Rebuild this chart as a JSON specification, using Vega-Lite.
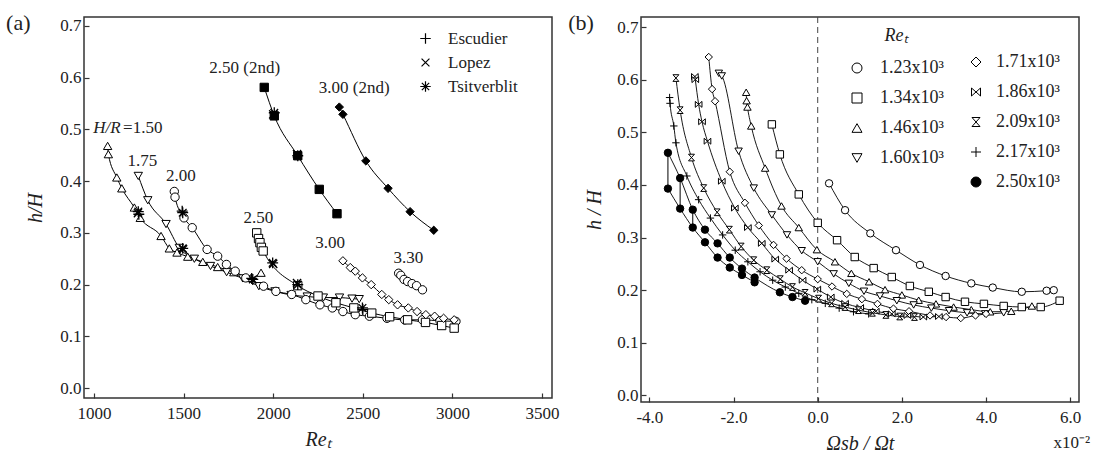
{
  "$schema": "https://vega.github.io/schema/vega-lite/v6.json",
  "background": "white",
  "padding": {"left": 5, "top": 11, "right": 5, "bottom": 5},
  "spacing": 7,
  "config": {
    "font": "Liberation Serif",
    "view": {"stroke": "#333", "strokeWidth": 1.5},
    "axis": {"grid": false, "domain": false, "ticks": true, "tickSize": -5, "tickColor": "#333", "tickWidth": 1.2, "labelFont": "Liberation Serif", "labelFontSize": 17, "labelColor": "#222", "titleFont": "Liberation Serif", "titleFontSize": 20, "titleFontStyle": "italic", "titleFontWeight": "normal", "titleColor": "#222"},
    "axisX": {"labelPadding": 12, "titlePadding": 8},
    "axisY": {"labelPadding": 8},
    "legend": {"labelFont": "Liberation Serif", "labelFontSize": 17, "labelColor": "#222", "titleFont": "Liberation Serif", "titleFontSize": 18, "titleFontStyle": "italic", "titleFontWeight": "normal", "titleColor": "#222", "padding": 0, "symbolStrokeColor": "black", "symbolStrokeWidth": 1}
  },
  "datasets": {
    "one": [{}],
    "a": [
      {"s": "1.50", "x": 1076, "y": 0.468}, {"s": "1.50", "x": 1080, "y": 0.452}, {"s": "1.50", "x": 1127, "y": 0.407}, {"s": "1.50", "x": 1155, "y": 0.386}, {"s": "1.50", "x": 1225, "y": 0.349}, {"s": "1.50", "x": 1258, "y": 0.329}, {"s": "1.50", "x": 1374, "y": 0.294}, {"s": "1.50", "x": 1420, "y": 0.27}, {"s": "1.50", "x": 1463, "y": 0.262}, {"s": "1.50", "x": 1523, "y": 0.254}, {"s": "1.50", "x": 1607, "y": 0.244}, {"s": "1.50", "x": 1690, "y": 0.234}, {"s": "1.50", "x": 1780, "y": 0.224}, {"s": "1.50", "x": 1876, "y": 0.213}, {"s": "1.50", "x": 1932, "y": 0.223},
      {"s": "1.75", "x": 1247, "y": 0.41}, {"s": "1.75", "x": 1300, "y": 0.363}, {"s": "1.75", "x": 1402, "y": 0.317}, {"s": "1.75", "x": 1476, "y": 0.271}, {"s": "1.75", "x": 1560, "y": 0.25}, {"s": "1.75", "x": 1650, "y": 0.236}, {"s": "1.75", "x": 1740, "y": 0.224}, {"s": "1.75", "x": 1830, "y": 0.212}, {"s": "1.75", "x": 1920, "y": 0.197}, {"s": "1.75", "x": 2010, "y": 0.187}, {"s": "1.75", "x": 2100, "y": 0.18}, {"s": "1.75", "x": 2190, "y": 0.177}, {"s": "1.75", "x": 2280, "y": 0.175}, {"s": "1.75", "x": 2370, "y": 0.175}, {"s": "1.75", "x": 2440, "y": 0.173}, {"s": "1.75", "x": 2480, "y": 0.172},
      {"s": "2.00", "x": 1448, "y": 0.38}, {"s": "2.00", "x": 1452, "y": 0.369}, {"s": "2.00", "x": 1502, "y": 0.329}, {"s": "2.00", "x": 1548, "y": 0.31}, {"s": "2.00", "x": 1631, "y": 0.268}, {"s": "2.00", "x": 1690, "y": 0.255}, {"s": "2.00", "x": 1739, "y": 0.239}, {"s": "2.00", "x": 1788, "y": 0.226}, {"s": "2.00", "x": 1847, "y": 0.213}, {"s": "2.00", "x": 1946, "y": 0.197}, {"s": "2.00", "x": 2015, "y": 0.187}, {"s": "2.00", "x": 2103, "y": 0.181}, {"s": "2.00", "x": 2182, "y": 0.171}, {"s": "2.00", "x": 2261, "y": 0.161}, {"s": "2.00", "x": 2330, "y": 0.155}, {"s": "2.00", "x": 2389, "y": 0.148}, {"s": "2.00", "x": 2458, "y": 0.142}, {"s": "2.00", "x": 2537, "y": 0.139}, {"s": "2.00", "x": 2635, "y": 0.135}, {"s": "2.00", "x": 2734, "y": 0.132}, {"s": "2.00", "x": 2833, "y": 0.132}, {"s": "2.00", "x": 2931, "y": 0.13}, {"s": "2.00", "x": 3020, "y": 0.129},
      {"s": "2.50", "x": 1908, "y": 0.3}, {"s": "2.50", "x": 1918, "y": 0.289}, {"s": "2.50", "x": 1926, "y": 0.281}, {"s": "2.50", "x": 1934, "y": 0.272}, {"s": "2.50", "x": 1944, "y": 0.265}, {"s": "2.50", "x": 2137, "y": 0.198}, {"s": "2.50", "x": 2250, "y": 0.178}, {"s": "2.50", "x": 2350, "y": 0.165}, {"s": "2.50", "x": 2450, "y": 0.155}, {"s": "2.50", "x": 2550, "y": 0.145}, {"s": "2.50", "x": 2650, "y": 0.138}, {"s": "2.50", "x": 2750, "y": 0.132}, {"s": "2.50", "x": 2850, "y": 0.127}, {"s": "2.50", "x": 2940, "y": 0.121}, {"s": "2.50", "x": 3010, "y": 0.116},
      {"s": "3.00", "x": 2389, "y": 0.246}, {"s": "3.00", "x": 2430, "y": 0.233}, {"s": "3.00", "x": 2458, "y": 0.226}, {"s": "3.00", "x": 2498, "y": 0.213}, {"s": "3.00", "x": 2547, "y": 0.2}, {"s": "3.00", "x": 2606, "y": 0.181}, {"s": "3.00", "x": 2645, "y": 0.171}, {"s": "3.00", "x": 2694, "y": 0.161}, {"s": "3.00", "x": 2754, "y": 0.155}, {"s": "3.00", "x": 2803, "y": 0.148}, {"s": "3.00", "x": 2852, "y": 0.142}, {"s": "3.00", "x": 2901, "y": 0.139}, {"s": "3.00", "x": 2951, "y": 0.135}, {"s": "3.00", "x": 3010, "y": 0.132},
      {"s": "3.30", "x": 2700, "y": 0.222}, {"s": "3.30", "x": 2712, "y": 0.218}, {"s": "3.30", "x": 2730, "y": 0.21}, {"s": "3.30", "x": 2750, "y": 0.206}, {"s": "3.30", "x": 2775, "y": 0.202}, {"s": "3.30", "x": 2800, "y": 0.198}, {"s": "3.30", "x": 2833, "y": 0.19},
      {"s": "2.50 (2nd)", "x": 1950, "y": 0.581}, {"s": "2.50 (2nd)", "x": 2006, "y": 0.526}, {"s": "2.50 (2nd)", "x": 2137, "y": 0.449}, {"s": "2.50 (2nd)", "x": 2257, "y": 0.384}, {"s": "2.50 (2nd)", "x": 2356, "y": 0.337},
      {"s": "3.00 (2nd)", "x": 2369, "y": 0.543}, {"s": "3.00 (2nd)", "x": 2389, "y": 0.529}, {"s": "3.00 (2nd)", "x": 2517, "y": 0.439}, {"s": "3.00 (2nd)", "x": 2641, "y": 0.386}, {"s": "3.00 (2nd)", "x": 2764, "y": 0.341}, {"s": "3.00 (2nd)", "x": 2896, "y": 0.305}
    ],
    "src": [
      {"src": "Tsitverblit", "x": 1247, "y": 0.341}, {"src": "Tsitverblit", "x": 1495, "y": 0.339}, {"src": "Tsitverblit", "x": 1495, "y": 0.27}, {"src": "Tsitverblit", "x": 1886, "y": 0.21}, {"src": "Tsitverblit", "x": 1997, "y": 0.242}, {"src": "Tsitverblit", "x": 2137, "y": 0.2}, {"src": "Tsitverblit", "x": 2498, "y": 0.155}, {"src": "Tsitverblit", "x": 2006, "y": 0.532}, {"src": "Tsitverblit", "x": 2137, "y": 0.449},
      {"src": "Escudier", "x": 1250, "y": 0.336}, {"src": "Escudier", "x": 1492, "y": 0.342}, {"src": "Escudier", "x": 1880, "y": 0.212}, {"src": "Escudier", "x": 2500, "y": 0.152},
      {"src": "Lopez", "x": 1245, "y": 0.338}, {"src": "Lopez", "x": 1497, "y": 0.268}, {"src": "Lopez", "x": 2000, "y": 0.24}, {"src": "Lopez", "x": 2133, "y": 0.203}, {"src": "Lopez", "x": 2000, "y": 0.529}, {"src": "Lopez", "x": 2133, "y": 0.452}
    ],
    "alab": [
      {"t": "1.75", "x": 1270, "y": 0.438},
      {"t": "2.00", "x": 1485, "y": 0.41},
      {"t": "2.50", "x": 1917, "y": 0.329},
      {"t": "3.00", "x": 2318, "y": 0.281},
      {"t": "3.30", "x": 2754, "y": 0.252},
      {"t": "2.50 (2nd)", "x": 1841, "y": 0.619},
      {"t": "3.00 (2nd)", "x": 2452, "y": 0.579}
    ],
    "b": [
      {"re": "1.23x10³", "c": "1.23", "x": 0.27, "y": 0.403}, {"re": "1.23x10³", "c": "1.23", "x": 0.65, "y": 0.352}, {"re": "1.23x10³", "c": "1.23", "x": 1.25, "y": 0.308}, {"re": "1.23x10³", "c": "1.23", "x": 1.86, "y": 0.276}, {"re": "1.23x10³", "c": "1.23", "x": 2.43, "y": 0.248}, {"re": "1.23x10³", "c": "1.23", "x": 3.04, "y": 0.227}, {"re": "1.23x10³", "c": "1.23", "x": 3.65, "y": 0.213}, {"re": "1.23x10³", "c": "1.23", "x": 4.16, "y": 0.205}, {"re": "1.23x10³", "c": "1.23", "x": 4.85, "y": 0.197}, {"re": "1.23x10³", "c": "1.23", "x": 5.44, "y": 0.199}, {"re": "1.23x10³", "c": "1.23", "x": 5.61, "y": 0.2},
      {"re": "1.34x10³", "c": "1.34", "x": -1.09, "y": 0.515}, {"re": "1.34x10³", "c": "1.34", "x": -0.9, "y": 0.458}, {"re": "1.34x10³", "c": "1.34", "x": -0.45, "y": 0.382}, {"re": "1.34x10³", "c": "1.34", "x": 0.0, "y": 0.328}, {"re": "1.34x10³", "c": "1.34", "x": 0.46, "y": 0.295}, {"re": "1.34x10³", "c": "1.34", "x": 0.88, "y": 0.263}, {"re": "1.34x10³", "c": "1.34", "x": 1.33, "y": 0.242}, {"re": "1.34x10³", "c": "1.34", "x": 1.76, "y": 0.225}, {"re": "1.34x10³", "c": "1.34", "x": 2.19, "y": 0.208}, {"re": "1.34x10³", "c": "1.34", "x": 2.64, "y": 0.197}, {"re": "1.34x10³", "c": "1.34", "x": 3.04, "y": 0.187}, {"re": "1.34x10³", "c": "1.34", "x": 3.5, "y": 0.178}, {"re": "1.34x10³", "c": "1.34", "x": 3.95, "y": 0.174}, {"re": "1.34x10³", "c": "1.34", "x": 4.42, "y": 0.17}, {"re": "1.34x10³", "c": "1.34", "x": 4.85, "y": 0.168}, {"re": "1.34x10³", "c": "1.34", "x": 5.3, "y": 0.168}, {"re": "1.34x10³", "c": "1.34", "x": 5.75, "y": 0.18},
      {"re": "1.46x10³", "c": "1.46", "x": -1.7, "y": 0.576}, {"re": "1.46x10³", "c": "1.46", "x": -1.69, "y": 0.56}, {"re": "1.46x10³", "c": "1.46", "x": -1.67, "y": 0.548}, {"re": "1.46x10³", "c": "1.46", "x": -1.58, "y": 0.512}, {"re": "1.46x10³", "c": "1.46", "x": -1.25, "y": 0.432}, {"re": "1.46x10³", "c": "1.46", "x": -0.86, "y": 0.36}, {"re": "1.46x10³", "c": "1.46", "x": -0.45, "y": 0.319}, {"re": "1.46x10³", "c": "1.46", "x": -0.02, "y": 0.277}, {"re": "1.46x10³", "c": "1.46", "x": 0.41, "y": 0.254}, {"re": "1.46x10³", "c": "1.46", "x": 0.8, "y": 0.232}, {"re": "1.46x10³", "c": "1.46", "x": 1.22, "y": 0.216}, {"re": "1.46x10³", "c": "1.46", "x": 1.6, "y": 0.201}, {"re": "1.46x10³", "c": "1.46", "x": 2.0, "y": 0.191}, {"re": "1.46x10³", "c": "1.46", "x": 2.4, "y": 0.181}, {"re": "1.46x10³", "c": "1.46", "x": 2.81, "y": 0.174}, {"re": "1.46x10³", "c": "1.46", "x": 3.23, "y": 0.168}, {"re": "1.46x10³", "c": "1.46", "x": 3.65, "y": 0.163}, {"re": "1.46x10³", "c": "1.46", "x": 4.1, "y": 0.159}, {"re": "1.46x10³", "c": "1.46", "x": 4.6, "y": 0.16}, {"re": "1.46x10³", "c": "1.46", "x": 5.09, "y": 0.17},
      {"re": "1.60x10³", "c": "1.60", "x": -2.35, "y": 0.612}, {"re": "1.60x10³", "c": "1.60", "x": -2.28, "y": 0.607}, {"re": "1.60x10³", "c": "1.60", "x": -1.88, "y": 0.464}, {"re": "1.60x10³", "c": "1.60", "x": -1.52, "y": 0.394}, {"re": "1.60x10³", "c": "1.60", "x": -1.09, "y": 0.343}, {"re": "1.60x10³", "c": "1.60", "x": -0.73, "y": 0.305}, {"re": "1.60x10³", "c": "1.60", "x": -0.38, "y": 0.275}, {"re": "1.60x10³", "c": "1.60", "x": 0.0, "y": 0.254}, {"re": "1.60x10³", "c": "1.60", "x": 0.38, "y": 0.231}, {"re": "1.60x10³", "c": "1.60", "x": 0.74, "y": 0.213}, {"re": "1.60x10³", "c": "1.60", "x": 1.1, "y": 0.198}, {"re": "1.60x10³", "c": "1.60", "x": 1.48, "y": 0.189}, {"re": "1.60x10³", "c": "1.60", "x": 1.88, "y": 0.18}, {"re": "1.60x10³", "c": "1.60", "x": 2.28, "y": 0.172}, {"re": "1.60x10³", "c": "1.60", "x": 2.7, "y": 0.166}, {"re": "1.60x10³", "c": "1.60", "x": 3.12, "y": 0.161}, {"re": "1.60x10³", "c": "1.60", "x": 3.55, "y": 0.157}, {"re": "1.60x10³", "c": "1.60", "x": 3.98, "y": 0.155}, {"re": "1.60x10³", "c": "1.60", "x": 4.42, "y": 0.157},
      {"re": "1.71x10³", "c": "1.71", "x": -2.59, "y": 0.643}, {"re": "1.71x10³", "c": "1.71", "x": -2.51, "y": 0.582}, {"re": "1.71x10³", "c": "1.71", "x": -2.44, "y": 0.559}, {"re": "1.71x10³", "c": "1.71", "x": -2.09, "y": 0.425}, {"re": "1.71x10³", "c": "1.71", "x": -1.73, "y": 0.366}, {"re": "1.71x10³", "c": "1.71", "x": -1.4, "y": 0.323}, {"re": "1.71x10³", "c": "1.71", "x": -1.05, "y": 0.286}, {"re": "1.71x10³", "c": "1.71", "x": -0.74, "y": 0.26}, {"re": "1.71x10³", "c": "1.71", "x": -0.38, "y": 0.238}, {"re": "1.71x10³", "c": "1.71", "x": 0.0, "y": 0.221}, {"re": "1.71x10³", "c": "1.71", "x": 0.34, "y": 0.207}, {"re": "1.71x10³", "c": "1.71", "x": 0.69, "y": 0.193}, {"re": "1.71x10³", "c": "1.71", "x": 1.05, "y": 0.183}, {"re": "1.71x10³", "c": "1.71", "x": 1.42, "y": 0.174}, {"re": "1.71x10³", "c": "1.71", "x": 1.8, "y": 0.165}, {"re": "1.71x10³", "c": "1.71", "x": 2.17, "y": 0.16}, {"re": "1.71x10³", "c": "1.71", "x": 2.67, "y": 0.152}, {"re": "1.71x10³", "c": "1.71", "x": 3.05, "y": 0.149}, {"re": "1.71x10³", "c": "1.71", "x": 3.4, "y": 0.147}, {"re": "1.71x10³", "c": "1.71", "x": 3.75, "y": 0.152}, {"re": "1.71x10³", "c": "1.71", "x": 4.0, "y": 0.155},
      {"re": "1.86x10³", "c": "1.86", "x": -2.92, "y": 0.606}, {"re": "1.86x10³", "c": "1.86", "x": -2.91, "y": 0.6}, {"re": "1.86x10³", "c": "1.86", "x": -2.83, "y": 0.553}, {"re": "1.86x10³", "c": "1.86", "x": -2.75, "y": 0.52}, {"re": "1.86x10³", "c": "1.86", "x": -2.62, "y": 0.483}, {"re": "1.86x10³", "c": "1.86", "x": -2.28, "y": 0.407}, {"re": "1.86x10³", "c": "1.86", "x": -1.97, "y": 0.356}, {"re": "1.86x10³", "c": "1.86", "x": -1.66, "y": 0.319}, {"re": "1.86x10³", "c": "1.86", "x": -1.33, "y": 0.289}, {"re": "1.86x10³", "c": "1.86", "x": -1.01, "y": 0.259}, {"re": "1.86x10³", "c": "1.86", "x": -0.68, "y": 0.238}, {"re": "1.86x10³", "c": "1.86", "x": -0.36, "y": 0.219}, {"re": "1.86x10³", "c": "1.86", "x": -0.01, "y": 0.202}, {"re": "1.86x10³", "c": "1.86", "x": 0.31, "y": 0.187}, {"re": "1.86x10³", "c": "1.86", "x": 0.65, "y": 0.175}, {"re": "1.86x10³", "c": "1.86", "x": 1.01, "y": 0.167}, {"re": "1.86x10³", "c": "1.86", "x": 1.38, "y": 0.16}, {"re": "1.86x10³", "c": "1.86", "x": 1.76, "y": 0.155}, {"re": "1.86x10³", "c": "1.86", "x": 2.13, "y": 0.152}, {"re": "1.86x10³", "c": "1.86", "x": 2.51, "y": 0.149}, {"re": "1.86x10³", "c": "1.86", "x": 2.88, "y": 0.15},
      {"re": "2.09x10³", "c": "2.09", "x": -3.37, "y": 0.603}, {"re": "2.09x10³", "c": "2.09", "x": -3.27, "y": 0.542}, {"re": "2.09x10³", "c": "2.09", "x": -3.0, "y": 0.452}, {"re": "2.09x10³", "c": "2.09", "x": -2.71, "y": 0.394}, {"re": "2.09x10³", "c": "2.09", "x": -2.39, "y": 0.348}, {"re": "2.09x10³", "c": "2.09", "x": -2.1, "y": 0.315}, {"re": "2.09x10³", "c": "2.09", "x": -1.82, "y": 0.283}, {"re": "2.09x10³", "c": "2.09", "x": -1.52, "y": 0.257}, {"re": "2.09x10³", "c": "2.09", "x": -1.21, "y": 0.238}, {"re": "2.09x10³", "c": "2.09", "x": -0.89, "y": 0.221}, {"re": "2.09x10³", "c": "2.09", "x": -0.6, "y": 0.206}, {"re": "2.09x10³", "c": "2.09", "x": -0.3, "y": 0.195}, {"re": "2.09x10³", "c": "2.09", "x": 0.02, "y": 0.184}, {"re": "2.09x10³", "c": "2.09", "x": 0.33, "y": 0.175}, {"re": "2.09x10³", "c": "2.09", "x": 0.65, "y": 0.168}, {"re": "2.09x10³", "c": "2.09", "x": 0.97, "y": 0.162}, {"re": "2.09x10³", "c": "2.09", "x": 1.3, "y": 0.157}, {"re": "2.09x10³", "c": "2.09", "x": 1.62, "y": 0.153}, {"re": "2.09x10³", "c": "2.09", "x": 1.95, "y": 0.15}, {"re": "2.09x10³", "c": "2.09", "x": 2.3, "y": 0.149},
      {"re": "2.17x10³", "c": "2.17", "x": -3.52, "y": 0.566}, {"re": "2.17x10³", "c": "2.17", "x": -3.51, "y": 0.555}, {"re": "2.17x10³", "c": "2.17", "x": -3.42, "y": 0.512}, {"re": "2.17x10³", "c": "2.17", "x": -3.37, "y": 0.48}, {"re": "2.17x10³", "c": "2.17", "x": -3.11, "y": 0.417}, {"re": "2.17x10³", "c": "2.17", "x": -2.83, "y": 0.372}, {"re": "2.17x10³", "c": "2.17", "x": -2.55, "y": 0.337}, {"re": "2.17x10³", "c": "2.17", "x": -2.26, "y": 0.305}, {"re": "2.17x10³", "c": "2.17", "x": -1.96, "y": 0.276}, {"re": "2.17x10³", "c": "2.17", "x": -1.66, "y": 0.254}, {"re": "2.17x10³", "c": "2.17", "x": -1.37, "y": 0.235}, {"re": "2.17x10³", "c": "2.17", "x": -1.07, "y": 0.219}, {"re": "2.17x10³", "c": "2.17", "x": -0.77, "y": 0.206}, {"re": "2.17x10³", "c": "2.17", "x": -0.45, "y": 0.194}, {"re": "2.17x10³", "c": "2.17", "x": -0.14, "y": 0.182}, {"re": "2.17x10³", "c": "2.17", "x": 0.18, "y": 0.175}, {"re": "2.17x10³", "c": "2.17", "x": 0.51, "y": 0.166}, {"re": "2.17x10³", "c": "2.17", "x": 0.85, "y": 0.159}, {"re": "2.17x10³", "c": "2.17", "x": 1.21, "y": 0.155},
      {"re": "2.50x10³", "c": "2.50u", "x": -3.56, "y": 0.461}, {"re": "2.50x10³", "c": "2.50u", "x": -3.27, "y": 0.413}, {"re": "2.50x10³", "c": "2.50u", "x": -2.97, "y": 0.353}, {"re": "2.50x10³", "c": "2.50u", "x": -2.68, "y": 0.315}, {"re": "2.50x10³", "c": "2.50u", "x": -2.38, "y": 0.289}, {"re": "2.50x10³", "c": "2.50u", "x": -2.09, "y": 0.262}, {"re": "2.50x10³", "c": "2.50u", "x": -1.8, "y": 0.241}, {"re": "2.50x10³", "c": "2.50u", "x": -1.5, "y": 0.224}, {"re": "2.50x10³", "c": "2.50u", "x": -0.9, "y": 0.196}, {"re": "2.50x10³", "c": "2.50u", "x": -0.6, "y": 0.187}, {"re": "2.50x10³", "c": "2.50u", "x": -0.3, "y": 0.18},
      {"re": "2.50x10³", "c": "2.50l", "x": -3.56, "y": 0.393}, {"re": "2.50x10³", "c": "2.50l", "x": -3.27, "y": 0.355}, {"re": "2.50x10³", "c": "2.50l", "x": -2.97, "y": 0.319}, {"re": "2.50x10³", "c": "2.50l", "x": -2.68, "y": 0.291}, {"re": "2.50x10³", "c": "2.50l", "x": -2.38, "y": 0.262}, {"re": "2.50x10³", "c": "2.50l", "x": -2.09, "y": 0.243}, {"re": "2.50x10³", "c": "2.50l", "x": -1.8, "y": 0.229}, {"re": "2.50x10³", "c": "2.50l", "x": -1.5, "y": 0.215}
    ],
    "pairs": [
      {"x": -3.56, "y": 0.461, "y2": 0.393},
      {"x": -3.27, "y": 0.413, "y2": 0.355},
      {"x": -2.97, "y": 0.353, "y2": 0.319}
    ]
  },
  "hconcat": [
    {
      "width": 468,
      "height": 381,
      "layer": [
        {
          "data": {"name": "a"},
          "mark": {"type": "line", "interpolate": "monotone", "stroke": "black", "strokeWidth": 1},
          "encoding": {
            "x": {"field": "x", "type": "quantitative", "scale": {"domain": [944, 3556], "nice": false, "zero": false}, "axis": {"title": "Reₜ", "values": [1000, 1500, 2000, 2500, 3000, 3500], "format": "d"}},
            "y": {"field": "y", "type": "quantitative", "scale": {"domain": [-0.019, 0.717], "nice": false, "zero": false}, "axis": {"title": "h/H", "values": [0, 0.1, 0.2, 0.3, 0.4, 0.5, 0.6, 0.7], "format": ".1f", "titlePadding": 14}},
            "detail": {"field": "s"}
          }
        },
        {
          "data": {"name": "a"},
          "mark": {"type": "point", "filled": true, "stroke": "black", "strokeWidth": 1, "size": 70, "opacity": 1},
          "encoding": {
            "x": {"field": "x", "type": "quantitative"},
            "y": {"field": "y", "type": "quantitative"},
            "shape": {"field": "s", "type": "nominal", "scale": {"domain": ["1.50", "1.75", "2.00", "2.50", "3.00", "3.30", "2.50 (2nd)", "3.00 (2nd)"], "range": ["triangle-up", "triangle-down", "circle", "square", "diamond", "circle", "square", "diamond"]}, "legend": null},
            "fill": {"field": "s", "type": "nominal", "scale": {"domain": ["1.50", "1.75", "2.00", "2.50", "3.00", "3.30", "2.50 (2nd)", "3.00 (2nd)"], "range": ["white", "white", "white", "white", "white", "white", "black", "black"]}, "legend": null}
          }
        },
        {
          "data": {"name": "src"},
          "mark": {"type": "point", "filled": false, "stroke": "black", "strokeWidth": 1.3, "size": 120, "opacity": 1},
          "encoding": {
            "x": {"field": "x", "type": "quantitative"},
            "y": {"field": "y", "type": "quantitative"},
            "shape": {"field": "src", "type": "nominal", "scale": {"domain": ["Escudier", "Lopez", "Tsitverblit"], "range": ["M-1,0L1,0M0,-1L0,1", "M-0.75,-0.75L0.75,0.75M-0.75,0.75L0.75,-0.75", "M-1,0L1,0M0,-1L0,1M-0.7,-0.7L0.7,0.7M-0.7,0.7L0.7,-0.7"]}, "legend": {"orient": "none", "legendX": 333, "legendY": 13, "title": null, "labelFontSize": 17, "rowPadding": 6, "symbolSize": 110, "labelOffset": 14, "symbolStrokeWidth": 1.2}}
          }
        },
        {
          "data": {"name": "alab"},
          "mark": {"type": "text", "font": "Liberation Serif", "fontSize": 17, "color": "#222", "align": "center"},
          "encoding": {
            "x": {"field": "x", "type": "quantitative"},
            "y": {"field": "y", "type": "quantitative"},
            "text": {"field": "t"}
          }
        },
        {
          "data": {"name": "one"},
          "mark": {"type": "text", "text": "H/R", "font": "Liberation Serif", "fontSize": 17, "fontStyle": "italic", "color": "#222", "align": "right"},
          "encoding": {"x": {"datum": 1148}, "y": {"datum": 0.503}}
        },
        {
          "data": {"name": "one"},
          "mark": {"type": "text", "text": "=1.50", "font": "Liberation Serif", "fontSize": 17, "color": "#222", "align": "left"},
          "encoding": {"x": {"datum": 1162}, "y": {"datum": 0.503}}
        },
        {
          "data": {"name": "one"},
          "mark": {"type": "text", "text": "(a)", "font": "Liberation Serif", "fontSize": 22, "color": "#222", "align": "left", "baseline": "middle"},
          "encoding": {"x": {"datum": 509}, "y": {"datum": 0.7054}}
        }
      ],
      "resolve": {"scale": {"shape": "independent", "fill": "independent"}}
    },
    {
      "width": 438,
      "height": 385,
      "layer": [
        {
          "data": {"name": "one"},
          "mark": {"type": "rule", "strokeDash": [6, 4], "color": "#444", "strokeWidth": 1},
          "encoding": {
            "x": {"datum": 0, "type": "quantitative", "scale": {"domain": [-4.2, 6.21], "nice": false, "zero": false}, "axis": {"title": "Ωsb / Ωt", "values": [-4, -2, 0, 2, 4, 6], "format": ".1f", "labelExpr": "replace(datum.label, '−', '-')"}}
          }
        },
        {
          "data": {"name": "b"},
          "mark": {"type": "line", "interpolate": "monotone", "stroke": "black", "strokeWidth": 0.9},
          "encoding": {
            "x": {"field": "x", "type": "quantitative"},
            "y": {"field": "y", "type": "quantitative", "scale": {"domain": [-0.0124, 0.719], "nice": false, "zero": false}, "axis": {"title": "h / H", "values": [0, 0.1, 0.2, 0.3, 0.4, 0.5, 0.6, 0.7], "format": ".1f", "titlePadding": 12}},
            "detail": {"field": "c"}
          }
        },
        {
          "data": {"name": "pairs"},
          "mark": {"type": "rule", "color": "black", "strokeWidth": 1},
          "encoding": {
            "x": {"field": "x", "type": "quantitative"},
            "y": {"field": "y", "type": "quantitative"},
            "y2": {"field": "y2"}
          }
        },
        {
          "data": {"name": "b"},
          "transform": [{"filter": {"field": "re", "oneOf": ["1.23x10³", "1.34x10³", "1.46x10³", "1.60x10³"]}}],
          "mark": {"type": "point", "filled": true, "stroke": "black", "strokeWidth": 1, "size": 55, "opacity": 1},
          "encoding": {
            "x": {"field": "x", "type": "quantitative"},
            "y": {"field": "y", "type": "quantitative"},
            "shape": {"field": "re", "type": "nominal", "scale": {"domain": ["1.23x10³", "1.34x10³", "1.46x10³", "1.60x10³"], "range": ["circle", "square", "triangle-up", "triangle-down"]}, "legend": {"orient": "none", "legendX": 207, "legendY": 10, "title": "Reₜ", "titleAnchor": "middle", "titlePadding": 14, "rowPadding": 12, "symbolSize": 100, "labelOffset": 14, "labelFontSize": 18}},
            "fill": {"field": "re", "type": "nominal", "scale": {"domain": ["1.23x10³", "1.34x10³", "1.46x10³", "1.60x10³"], "range": ["white", "white", "white", "white"]}, "legend": {"orient": "none", "legendX": 207, "legendY": 10, "title": "Reₜ", "titleAnchor": "middle", "titlePadding": 14, "rowPadding": 12, "symbolSize": 100, "labelOffset": 14, "labelFontSize": 18}},
            "stroke": {"field": "re", "type": "nominal", "scale": {"domain": ["1.23x10³", "1.34x10³", "1.46x10³", "1.60x10³"], "range": ["black", "black", "black", "black"]}, "legend": {"orient": "none", "legendX": 207, "legendY": 10, "title": "Reₜ", "titleAnchor": "middle", "titlePadding": 14, "rowPadding": 12, "symbolSize": 100, "labelOffset": 14, "labelFontSize": 18}}
          }
        },
        {
          "data": {"name": "b"},
          "transform": [{"filter": {"field": "re", "oneOf": ["1.71x10³", "1.86x10³", "2.09x10³", "2.17x10³", "2.50x10³"]}}],
          "mark": {"type": "point", "filled": true, "stroke": "black", "strokeWidth": 1, "size": 55, "opacity": 1},
          "encoding": {
            "x": {"field": "x", "type": "quantitative"},
            "y": {"field": "y", "type": "quantitative"},
            "shape": {"field": "re", "type": "nominal", "scale": {"domain": ["1.71x10³", "1.86x10³", "2.09x10³", "2.17x10³", "2.50x10³"], "range": ["diamond", "M-0.9,-0.8L-0.9,0.8L0.9,-0.8L0.9,0.8Z", "M-0.8,-0.9L0.8,-0.9L-0.8,0.9L0.8,0.9Z", "M-1,0L1,0M0,-1L0,1", "circle"]}, "legend": {"orient": "none", "legendX": 326, "legendY": 36, "title": null, "rowPadding": 12, "symbolSize": 100, "labelOffset": 11, "labelFontSize": 18}},
            "fill": {"field": "re", "type": "nominal", "scale": {"domain": ["1.71x10³", "1.86x10³", "2.09x10³", "2.17x10³", "2.50x10³"], "range": ["white", "white", "white", "white", "black"]}, "legend": {"orient": "none", "legendX": 326, "legendY": 36, "title": null, "rowPadding": 12, "symbolSize": 100, "labelOffset": 11, "labelFontSize": 18}},
            "stroke": {"field": "re", "type": "nominal", "scale": {"domain": ["1.71x10³", "1.86x10³", "2.09x10³", "2.17x10³", "2.50x10³"], "range": ["black", "black", "black", "black", "black"]}, "legend": {"orient": "none", "legendX": 326, "legendY": 36, "title": null, "rowPadding": 12, "symbolSize": 100, "labelOffset": 11, "labelFontSize": 18}}
          }
        },
        {
          "data": {"name": "one"},
          "mark": {"type": "text", "text": "x10⁻²", "font": "Liberation Serif", "fontSize": 17, "color": "#222", "align": "center", "baseline": "middle"},
          "encoding": {"x": {"datum": 6.04}, "y": {"datum": -0.09}}
        },
        {
          "data": {"name": "one"},
          "mark": {"type": "text", "text": "(b)", "font": "Liberation Serif", "fontSize": 22, "color": "#222", "align": "left", "baseline": "middle"},
          "encoding": {"x": {"datum": -5.93}, "y": {"datum": 0.7076}}
        }
      ],
      "resolve": {"scale": {"shape": "independent", "fill": "independent", "stroke": "independent"}}
    }
  ]
}
